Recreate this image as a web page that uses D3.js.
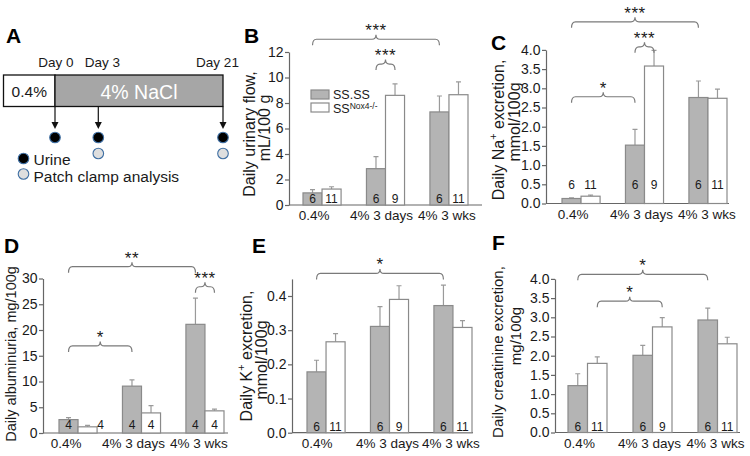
<!DOCTYPE html>
<html><head><meta charset="utf-8">
<script src="https://cdn.jsdelivr.net/npm/d3@7"></script>
<style>
html,body{margin:0;padding:0;background:#fff;}
svg{display:block;font-family:"Liberation Sans",Arial,Helvetica,sans-serif;}
</style></head><body>
<svg id="chart" width="750" height="456"></svg>
<script>
// ---------------- DATA ----------------
const categories = ["0.4%", "4% 3 days", "4% 3 wks"];
const seriesKeys = ["ss", "nox"];
const seriesNames = ["SS.SS", "SS"];
const seriesSup = ["", "Nox4-/-"];

// B: daily urinary flow (mL/100 g)
const flowSS = [0.95, 2.85, 7.3], flowSSErr = [0.25, 0.95, 1.25];
const flowNox = [1.25, 8.6, 8.65], flowNoxErr = [0.18, 0.9, 1.0];
const flowTicks = [0, 2, 4, 6, 8, 10, 12];
// C: daily Na+ excretion (mmol/100g)
const naSS = [0.13, 1.52, 2.76], naSSErr = [0.02, 0.41, 0.43];
const naNox = [0.19, 3.58, 2.74], naNoxErr = [0.03, 0.41, 0.24];
const naTicks = [0, 0.5, 1, 1.5, 2, 2.5, 3, 3.5, 4];
// D: daily albuminuria (mg/100g)
const albSS = [2.6, 9.1, 21.1], albSSErr = [0.4, 1.2, 5.1];
const albNox = [1.2, 3.9, 4.3], albNoxErr = [0.3, 1.4, 0.35];
const albTicks = [0, 5, 10, 15, 20, 25, 30];
// E: daily K+ excretion (mmol/100g)
const kSS = [0.178, 0.311, 0.372], kSSErr = [0.034, 0.058, 0.06];
const kNox = [0.266, 0.39, 0.308], kNoxErr = [0.024, 0.04, 0.02];
const kTicks = [0, 0.1, 0.2, 0.3, 0.4];
// F: daily creatinine excretion (mg/100g)
const crSS = [1.22, 2.01, 2.93], crSSErr = [0.31, 0.26, 0.31];
const crNox = [1.8, 2.75, 2.31], crNoxErr = [0.17, 0.24, 0.17];
const crTicks = [0, 0.5, 1, 1.5, 2, 2.5, 3, 3.5, 4];
// group sizes
const nSS = [6, 6, 6], nNox = [11, 9, 11];
const nAlbSS = [4, 4, 4], nAlbNox = [4, 4, 4];
// significance brackets: [group, series] -> [group, series], level in data units
const bracketsB = [{a:[0,"ss"], b:[2,"ss"], level:13.0, text:"***"}, {a:[1,"ss"], b:[1,"nox"], level:11.05, text:"***"}];
const bracketsC = [{a:[0,"ss"], b:[2,"ss"], level:4.73, text:"***"}, {a:[1,"ss"], b:[1,"nox"], level:4.08, text:"***"}, {a:[0,"ss"], b:[1,"ss"], level:2.78, text:"*"}];
const bracketsD = [{a:[0,"ss"], b:[2,"ss"], level:32.3, text:"**"}, {a:[2,"ss"], b:[2,"nox"], level:28.4, text:"***"}, {a:[0,"ss"], b:[1,"ss"], level:16.9, text:"*"}];
const bracketsE = [{a:[0,"ss"], b:[2,"ss"], level:0.466, text:"*"}];
const bracketsF = [{a:[0,"ss"], b:[2,"ss"], level:4.12, text:"*"}, {a:[0,"nox"], b:[1,"nox"], level:3.42, text:"*"}];
// panel A
const timelineDays = ["Day 0", "Day 3", "Day 21"];
const dietLabels = ["0.4%", "4% NaCl"];
const legendA = ["Urine", "Patch clamp analysis"];

// ---------------- STYLE ----------------
const TXT = "#1a1a1a", AX = "#666", BARSTROKE = "#8a8a8a", GRAY = "#b4b4b4", ERR = "#9a9a9a", BRK = "#7a7a7a";
const svg = d3.select("#chart");

function bracketPath(x1, x2, yb) {
  const xm = (x1 + x2) / 2, r = 4, leg = 6, cusp = 4.5;
  return `M${x1},${yb+leg} Q${x1},${yb} ${x1+r},${yb} L${xm-r},${yb} Q${xm},${yb} ${xm},${yb-cusp} ` +
         `Q${xm},${yb} ${xm+r},${yb} L${x2-r},${yb} Q${x2},${yb} ${x2},${yb+leg}`;
}

// text with optional superscript pieces; sizes in px
function addRichText(sel, parts, size) {
  let shift = 0;
  parts.forEach(p => {
    const t = sel.append("tspan").text(p.t);
    if (p.sup) {
      const s = size * 0.4;
      t.attr("dy", -s - shift).attr("font-size", size * 0.68);
      shift = -s;
    } else {
      if (shift) t.attr("dy", -shift);
      shift = 0;
    }
  });
}

function drawPanel(p) {
  const g = svg.append("g");
  const y = d3.scaleLinear().domain([0, p.domainTop]).range([p.yBottom, p.yBottom - p.ppu * p.domainTop]);
  const x = d3.scaleBand().domain(categories).range([p.barsLeft, p.barsRight]).paddingInner(p.padInner);
  const xs = d3.scaleBand().domain(seriesKeys).range([0, x.bandwidth()]);
  const cx = (gi, s) => x(categories[gi]) + xs(s) + xs.bandwidth() / 2;

  // y axis
  const ax = d3.axisLeft(y).tickValues(p.ticks).tickFormat(p.fmt).tickSize(4).tickSizeOuter(0).tickPadding(1.5);
  const axg = g.append("g").attr("transform", `translate(${p.axisX},0)`).call(ax);
  axg.select(".domain").attr("stroke", AX).attr("stroke-width", 1.2);
  axg.selectAll(".tick line").attr("stroke", AX).attr("stroke-width", 1.2);
  axg.selectAll(".tick text").attr("fill", TXT).attr("font-size", 14).attr("font-family", "Liberation Sans, Arial, sans-serif");

  // x axis line
  g.append("line").attr("x1", p.axisX).attr("x2", p.axisEnd).attr("y1", p.yBottom).attr("y2", p.yBottom)
    .attr("stroke", AX).attr("stroke-width", 1.2);

  // bars
  const rows = [];
  categories.forEach((c, i) => {
    rows.push({c, s: "ss", v: p.ss[i], e: p.ssErr[i], n: p.nA[i], i});
    rows.push({c, s: "nox", v: p.nox[i], e: p.noxErr[i], n: p.nB[i], i});
  });
  g.selectAll(".err").data(rows).join("path")
    .attr("d", d => { const xc = x(d.c) + xs(d.s) + xs.bandwidth()/2; return `M${xc},${y(d.v)} V${y(d.v + d.e)} M${xc-2.5},${y(d.v + d.e)} H${xc+2.5}`; })
    .attr("stroke", ERR).attr("stroke-width", 1.2).attr("fill", "none");
  g.selectAll(".bar").data(rows).join("rect")
    .attr("x", d => x(d.c) + xs(d.s)).attr("width", xs.bandwidth())
    .attr("y", d => y(d.v)).attr("height", d => y(0) - y(d.v))
    .attr("fill", d => d.s === "ss" ? GRAY : "#fff").attr("stroke", BARSTROKE).attr("stroke-width", 1.2);
  g.selectAll(".nl").data(rows).join("text")
    .attr("x", d => x(d.c) + xs(d.s) + xs.bandwidth()/2 + ((p.nDx && p.nDx[d.s + d.i]) || 0))
    .attr("y", p.nBase).attr("text-anchor", "middle").attr("font-size", 12).attr("fill", TXT).text(d => d.n);

  // category labels
  g.selectAll(".cl").data(categories).join("text")
    .attr("x", (d, i) => x(d) + x.bandwidth()/2 + p.catDx[i]).attr("y", p.yBottom + 15)
    .attr("text-anchor", "middle").attr("font-size", 13.5).attr("fill", TXT).text(d => d);

  // brackets
  p.brackets.forEach(b => {
    const x1 = cx(b.a[0], b.a[1]), x2 = cx(b.b[0], b.b[1]), yb = y(b.level);
    g.append("path").attr("d", bracketPath(x1, x2, yb)).attr("fill", "none").attr("stroke", BRK).attr("stroke-width", 1.2);
    g.append("text").attr("x", (x1 + x2)/2).attr("y", yb - 3).attr("text-anchor", "middle")
      .attr("font-size", 17).attr("fill", TXT).attr("letter-spacing", 0.5).text(b.text);
  });

  // y title
  p.title.forEach((parts, k) => {
    const t = g.append("text").attr("transform", `translate(${p.titleX[k]},${p.titleY[k]}) rotate(-90)`)
      .attr("text-anchor", "middle").attr("dy", p.titleSize * 0.35).attr("font-size", p.titleSize).attr("fill", TXT);
    addRichText(t, parts, p.titleSize);
  });

  g.append("text").attr("x", p.letterX).attr("y", p.letterY).attr("font-size", 21).attr("font-weight", "bold")
    .attr("fill", "#000").text(p.letter);
  return {g, x, xs, y};
}

const f1 = d3.format(".1f"), f0 = d3.format("d");

// ---------------- PANEL B ----------------
const pB = drawPanel({letter:"B", letterX:244, letterY:43, axisX:289, axisEnd:482, yBottom:205, ppu:12.75, domainTop:12,
  ticks:flowTicks, fmt:f0, barsLeft:303, barsRight:468, padInner:0.4, ss:flowSS, ssErr:flowSSErr, nox:flowNox, noxErr:flowNoxErr,
  nA:nSS, nB:nNox, nBase:203, catDx:[-8,-4,-2], brackets:bracketsB,
  title:[[{t:"Daily urinary flow,"}],[{t:"mL/100 g"}]], titleX:[249,264.5], titleY:[134,128], titleSize:16});
// legend
const lg = pB.g.append("g");
seriesKeys.forEach((s, i) => {
  lg.append("rect").attr("x", 311).attr("y", 90 + i*13).attr("width", 18).attr("height", 9)
    .attr("fill", s === "ss" ? GRAY : "#fff").attr("stroke", BARSTROKE).attr("stroke-width", 1.2);
  const t = lg.append("text").attr("x", 333).attr("y", 98.5 + i*14).attr("font-size", 12.5).attr("fill", TXT);
  t.append("tspan").text(seriesNames[i]);
  if (seriesSup[i]) t.append("tspan").attr("dy", -3.5).attr("font-size", 8.5).text(seriesSup[i]);
});

// ---------------- PANEL C ----------------
drawPanel({letter:"C", letterX:491, letterY:50, axisX:546, axisEnd:729, yBottom:203.5, ppu:38.4, domainTop:4,
  ticks:naTicks, fmt:f1, barsLeft:562, barsRight:727, padInner:0.4, ss:naSS, ssErr:naSSErr, nox:naNox, noxErr:naNoxErr,
  nA:nSS, nB:nNox, nBase:189, catDx:[-8,-3,-1], brackets:bracketsC,
  title:[[{t:"Daily Na"},{t:"+",sup:true},{t:" excretion,"}],[{t:"mmol/100g"}]], titleX:[498,514], titleY:[130,122], titleSize:16});

// ---------------- PANEL D ----------------
drawPanel({letter:"D", letterX:4, letterY:253, axisX:43, axisEnd:228, yBottom:433, ppu:5.15, domainTop:30,
  ticks:albTicks, fmt:f0, barsLeft:59, barsRight:224, padInner:0.4, ss:albSS, ssErr:albSSErr, nox:albNox, noxErr:albNoxErr,
  nA:nAlbSS, nB:nAlbNox, nBase:429, nDx:{nox0:13}, catDx:[-12,-8,-6], brackets:bracketsD,
  title:[[{t:"Daily albuminuria, mg/100g"}]], titleX:[11], titleY:[354], titleSize:14.5});

// ---------------- PANEL E ----------------
drawPanel({letter:"E", letterX:252, letterY:253, axisX:292, axisEnd:473, yBottom:432.7, ppu:341.75, domainTop:0.45,
  ticks:kTicks, fmt:f1, barsLeft:307, barsRight:472, padInner:0.4, ss:kSS, ssErr:kSSErr, nox:kNox, noxErr:kNoxErr,
  nA:nSS, nB:nNox, nBase:431, catDx:[-9,-2,-2], brackets:bracketsE,
  title:[[{t:"Daily K"},{t:"+",sup:true},{t:" excretion,"}],[{t:"mmol/100g"}]], titleX:[246,261], titleY:[356,360], titleSize:16});

// ---------------- PANEL F ----------------
drawPanel({letter:"F", letterX:492, letterY:250, axisX:555, axisEnd:740, yBottom:432.5, ppu:38.4, domainTop:4,
  ticks:crTicks, fmt:f1, barsLeft:568, barsRight:737, padInner:0.4, ss:crSS, ssErr:crSSErr, nox:crNox, noxErr:crNoxErr,
  nA:nSS, nB:nNox, nBase:431, catDx:[-8,-3,-2], brackets:bracketsF,
  title:[[{t:"Daily creatinine excretion,"}],[{t:"mg/100g"}]], titleX:[498,516], titleY:[352,336], titleSize:15});

// ---------------- PANEL A ----------------
const gA = svg.append("g");
gA.append("text").attr("x", 6).attr("y", 43).attr("font-size", 21).attr("font-weight", "bold").text("A");
const boxL = 3.5, boxSplit = 55, boxR = 223, boxT = 75, boxB = 106.5;
gA.append("rect").attr("x", boxL).attr("y", boxT).attr("width", boxSplit - boxL).attr("height", boxB - boxT)
  .attr("fill", "#fff").attr("stroke", "#111").attr("stroke-width", 1.3);
gA.append("rect").attr("x", boxSplit).attr("y", boxT).attr("width", boxR - boxSplit).attr("height", boxB - boxT)
  .attr("fill", "#a6a6a6").attr("stroke", "#111").attr("stroke-width", 1.3);
gA.append("text").attr("x", (boxL + boxSplit)/2).attr("y", 97).attr("text-anchor", "middle").attr("font-size", 15.5).attr("fill", TXT).text(dietLabels[0]);
gA.append("text").attr("x", 139).attr("y", 98.5).attr("text-anchor", "middle").attr("font-size", 19.5).attr("fill", "#fff").text(dietLabels[1]);
const dayX = [56, 102.5, 217.5];
timelineDays.forEach((d, i) => gA.append("text").attr("x", dayX[i]).attr("y", 67).attr("text-anchor", "middle")
  .attr("font-size", 13.5).attr("fill", TXT).text(d));
const sampleX = [boxSplit, 98.3, boxR];
const hasPatch = [false, true, true];
sampleX.forEach((sx, i) => {
  gA.append("line").attr("x1", sx).attr("x2", sx).attr("y1", boxB).attr("y2", 123).attr("stroke", "#111").attr("stroke-width", 1.2);
  gA.append("path").attr("d", `M${sx-3.5},${122} L${sx+3.5},${122} L${sx},${129} Z`).attr("fill", "#111");
  gA.append("circle").attr("cx", sx).attr("cy", 137.5).attr("r", 5.3).attr("fill", "#000").attr("stroke", "#3f6fa3").attr("stroke-width", 1.1);
  if (hasPatch[i]) gA.append("circle").attr("cx", sx).attr("cy", 153.5).attr("r", 5.3).attr("fill", "#dedede").attr("stroke", "#3f6fa3").attr("stroke-width", 1.1);
});
gA.append("circle").attr("cx", 23.5).attr("cy", 158.5).attr("r", 5.3).attr("fill", "#000").attr("stroke", "#3f6fa3").attr("stroke-width", 1.1);
gA.append("circle").attr("cx", 23.5).attr("cy", 174).attr("r", 5.3).attr("fill", "#dedede").attr("stroke", "#3f6fa3").attr("stroke-width", 1.1);
gA.append("text").attr("x", 33.5).attr("y", 164.5).attr("font-size", 15.5).attr("fill", TXT).text(legendA[0]);
gA.append("text").attr("x", 33.5).attr("y", 181.5).attr("font-size", 15.5).attr("fill", TXT).text(legendA[1]);
</script>
</body></html>
